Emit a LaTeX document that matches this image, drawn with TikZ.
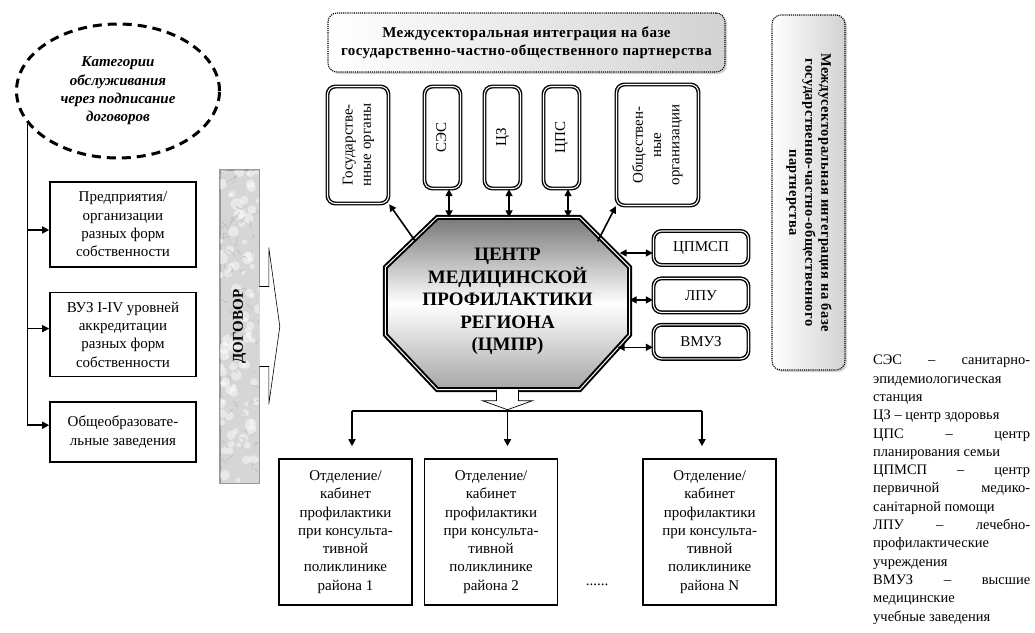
\documentclass[tikz,border=0pt]{standalone}
\usepackage{fontspec}
\setmainfont{Liberation Serif}
\usepackage{tikz}
\usetikzlibrary{arrows.meta, positioning, shapes.geometric, shadows}
\definecolor{marblecolor}{RGB}{214,214,214}
\definecolor{shadecolor}{RGB}{120,120,120}
\newcommand{\jl}[1]{\makebox[157pt][s]{#1}}
\newcommand{\rot}[2]{\rotatebox{#1}{\begin{tabular}{@{}c@{}}#2\end{tabular}}}

\begin{document}
\begin{tikzpicture}[x=1pt, y=-1pt, >={Triangle[length=7pt,width=7pt]},
  link/.style={line width=1.6pt},
  catbox/.style={draw, line width=1.6pt, align=center, inner sep=1pt, font=\fontsize{15}{18.3}\selectfont},
  orgbox/.style={draw, double, line width=1.4pt, double distance=1.1pt, rounded corners=8pt, align=center, inner sep=0pt, font=\fontsize{15}{18.3}\selectfont},
  banner/.style={draw, densely dotted, line width=1.1pt, rounded corners=9pt, left color=white, right color=gray!35, drop shadow={shadow xshift=2pt, shadow yshift=-2pt, fill=gray!70}, align=center, inner sep=0pt, font=\bfseries\fontsize{15}{18}\selectfont\addfontfeature{LetterSpace=3}}]
\useasboundingbox (0,0) rectangle (1035,632);

% categories and contracts
\node[ellipse, draw, dashed, line width=3pt, dash pattern=on 9pt off 6pt, minimum width=203pt, minimum height=134pt, inner sep=0pt, align=center, font=\bfseries\itshape\fontsize{15}{18.3}\selectfont] (cat) at (118,91) {Категории\\обслуживания\\через подписание\\договоров};
\node[catbox, minimum width=146pt, minimum height=85pt] (pr) at (123,224.5) {Предприятия/\\организации\\разных форм\\собственности};
\node[catbox, minimum width=146pt, minimum height=84pt, below=24pt of pr] (vuz) {ВУЗ I-IV уровней\\аккредитации\\разных форм\\собственности};
\node[catbox, minimum width=146pt, minimum height=60pt, below=24pt of vuz] (sch) {Общеобразовате-\\льные заведения};
\coordinate (a1) at ([yshift=-5.5pt]pr.west);
\coordinate (a2) at ([yshift=6pt]vuz.west);
\coordinate (a3) at ([yshift=7pt]sch.west);
\draw[link,->] (cat.200) |- (a3);
\draw[link,->] (a1 -| cat.200) -- (a1);
\draw[link,->] (a2 -| cat.200) -- (a2);

% contract bar
\node[draw=gray!80, line width=0.6pt, fill=marblecolor, minimum width=39pt, minimum height=313pt, inner sep=0pt] (dog) at (239.5,326.5) {};
\begin{scope}
\clip (dog.north west) rectangle (dog.south east);
\pgfmathsetseed{11}
\foreach \i in {1,...,90}
  \fill[white, opacity=0.45] (220+40*rnd, 170+313*rnd) circle (2+4*rnd);
\foreach \i in {1,...,60}
  \draw[gray!55, line width=0.5pt] (220+40*rnd, 170+313*rnd) .. controls +(-4+8*rnd, -4+8*rnd) .. +(-8+16*rnd, -8+16*rnd);
\end{scope}
\draw[gray!80, line width=0.6pt] (dog.north west) rectangle (dog.south east);
\node[rotate=90, font=\bfseries\fontsize{15}{18}\selectfont] at (dog) {ДОГОВОР};
\draw[fill=white, line width=0.6pt] ([yshift=40pt]dog.east) -- ++(9.5,0) -- ++(0,-39) -- ++(11,79) -- ++(-11,78) -- ++(0,-38) -- ([yshift=-40pt]dog.east);

% integration banners
\node[banner, minimum width=397pt, minimum height=59pt] (integ) at (526.5,42.5) {Междусекторальная интеграция на базе\\государственно-частно-общественного партнерства};
\node[banner, minimum width=73pt, minimum height=355pt, font=\bfseries\fontsize{14.5}{16}\selectfont\addfontfeature{LetterSpace=3}] (integv) at (808.5,192.5) {\rot{-90}{Междусекторальная интеграция на базе\\государственно-частно-общественного\\партнерства}};

% partner boxes
\node[orgbox, minimum width=61pt, minimum height=117pt] (gov) at (358,145) {\rot{90}{Государстве-\\нные органы}};
\node[orgbox, minimum width=36pt, minimum height=102pt] (ses) at (442.5,137.5) {\rot{90}{СЭС}};
\node[orgbox, minimum width=36pt, minimum height=102pt] (cz) at (502.5,137.5) {\rot{90}{ЦЗ}};
\node[orgbox, minimum width=36pt, minimum height=102pt] (cps) at (561.5,137.5) {\rot{90}{ЦПС}};
\node[orgbox, minimum width=82pt, minimum height=121pt] (obsh) at (657.5,145) {\rot{90}{Обществен-\\ные\\организации}};
\node[orgbox, minimum width=95pt, minimum height=34pt] (cpmsp) at (701,248) {ЦПМСП};
\node[orgbox, minimum width=95pt, minimum height=34pt, below=12pt of cpmsp] (lpu) {ЛПУ};
\node[orgbox, minimum width=95pt, minimum height=34pt, below=11pt of lpu] (vmuz) {ВМУЗ};

% centre
\node[minimum width=244pt, minimum height=172pt, inner sep=0pt] (cmpr) at (507.5,303.5) {};
\path[draw, double, line width=2pt, double distance=1pt, top color=shadecolor, bottom color=gray!70, middle color=white]
  ([xshift=52pt]cmpr.north west) -- ([xshift=-50pt]cmpr.north east) -- ([yshift=-50pt]cmpr.north east)
  -- ([yshift=55pt]cmpr.south east) -- ([xshift=-50pt]cmpr.south east) -- ([xshift=52pt]cmpr.south west)
  -- ([yshift=55pt]cmpr.south west) -- ([yshift=-50pt]cmpr.north west) -- cycle;
\node[align=center, font=\bfseries\fontsize{19}{22.5}\selectfont] at ([yshift=2pt]cmpr) {ЦЕНТР\\МЕДИЦИНСКОЙ\\ПРОФИЛАКТИКИ\\РЕГИОНА\\(ЦМПР)};

% links to the centre
\foreach \b in {ses,cz,cps} {
  \coordinate (t) at ([xshift=6.5pt]\b.south);
  \draw[link,<->] (t) -- (t |- cmpr.north);
}
\draw[link,->] ([xshift=30pt,yshift=-24pt]cmpr.north west) -- (gov.south east);
\draw[link,->] ([xshift=-32pt,yshift=-24pt]cmpr.north east) -- (obsh.south west);
\coordinate (r1) at ([yshift=-5pt]cpmsp.west);
\coordinate (r2) at ([yshift=-4.5pt]lpu.west);
\coordinate (r3) at ([yshift=-5.5pt]vmuz.west);
\draw[link,<->, shorten >=-10pt] (r1) -- (r1 -| cmpr.east);
\draw[link,<->] (r2) -- (r2 -| cmpr.east);
\draw[link,<->, shorten >=-12pt] (r3) -- (r3 -| cmpr.east);

% district offices
\node[catbox, minimum width=133pt, minimum height=146pt] (d1) at (345.5,532) {Отделение/\\кабинет\\профилактики\\при консульта-\\тивной\\поликлинике\\района 1};
\node[catbox, minimum width=133pt, minimum height=146pt, right=11pt of d1] (d2) {Отделение/\\кабинет\\профилактики\\при консульта-\\тивной\\поликлинике\\района 2};
\node[catbox, minimum width=133pt, minimum height=146pt, right=84pt of d2] (dn) {Отделение/\\кабинет\\профилактики\\при консульта-\\тивной\\поликлинике\\района N};
\node[font=\fontsize{15}{18}\selectfont] (dots) at (597,585) {......};
\draw[fill=white, line width=0.7pt] ([xshift=-11pt]cmpr.south) -- ++(0,11) -- ++(-14,0) -- ++(25,9) -- ++(25,-9) -- ++(-14,0) -- ++(0,-11);
\coordinate (split) at ([yshift=-20pt]cmpr.south);
\coordinate (b1) at (352,411);
\coordinate (b3) at (702,411);
\draw[link] (b1) -- (b3);
\foreach \c in {b1,split,b3}
  \draw[link,->, shorten >=12pt] (\c) -- (\c |- d1.north);

% legend
\node[anchor=north west, align=left, inner sep=0pt, font=\fontsize{14.5}{18.3}\selectfont] (leg) at (873,355) {\jl{СЭС – санитарно-}\\эпидемиологическая\\станция\\ЦЗ – центр здоровья\\\jl{ЦПС – центр}\\планирования семьи\\\jl{ЦПМСП – центр}\\\jl{первичной медико-}\\санітарной помощи\\\jl{ЛПУ – лечебно-}\\профилактические\\учреждения\\\jl{ВМУЗ – высшие}\\медицинские\\учебные заведения};
\end{tikzpicture}
\end{document}
